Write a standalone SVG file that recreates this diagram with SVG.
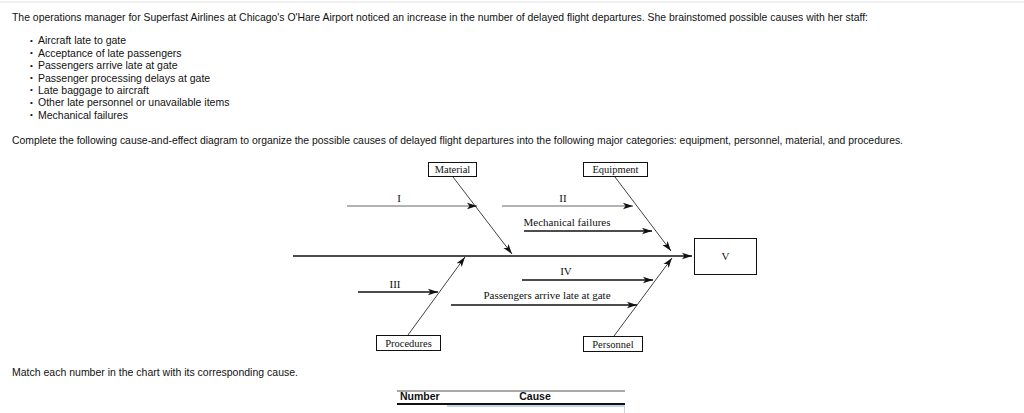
<svg xmlns="http://www.w3.org/2000/svg" width="1024" height="413" viewBox="0 0 1024 413">
<defs>
<style>
.t{font-family:"Liberation Sans",Arial,sans-serif;font-size:10.5px;fill:#111}
.b{font-family:"Liberation Sans",Arial,sans-serif;font-size:8px;fill:#111}
.s{font-family:"Liberation Serif","Times New Roman",serif;font-size:11px;fill:#111}
.bx{font-family:"Liberation Serif","Times New Roman",serif;font-size:10.5px;fill:#111}
.box{fill:#fff;stroke:#111;stroke-width:1}
.ln{stroke:#111;stroke-width:1.3;fill:none}
.gl{stroke:#666;stroke-width:1;fill:none}
.dg{stroke:#111;stroke-width:0.8;fill:none}
</style>
<marker id="ah" markerUnits="userSpaceOnUse" markerWidth="12" markerHeight="8" refX="10" refY="4" orient="auto">
<path d="M0,0.8 L10,4 L0,7.2 L2.5,4 z" fill="#111"/>
</marker>
</defs>
<rect x="0" y="0" width="1024" height="413" fill="#fff"/>
<rect x="0" y="1" width="1024" height="2" fill="#f1f1f4"/>
<g id="intro">
<text class="t" x="12" y="20.5" textLength="856" lengthAdjust="spacingAndGlyphs">The operations manager for Superfast Airlines at Chicago's O'Hare Airport noticed an increase in the number of delayed flight departures. She brainstomed possible causes with her staff:</text>
<g class="b">
<text x="30" y="42.5">•</text>
<text x="30" y="55">•</text>
<text x="30" y="67.5">•</text>
<text x="30" y="80">•</text>
<text x="30" y="92">•</text>
<text x="30" y="104.5">•</text>
<text x="30" y="117">•</text>
</g>
<text class="t" x="38" y="44">Aircraft late to gate</text>
<text class="t" x="38" y="56.5">Acceptance of late passengers</text>
<text class="t" x="38" y="69">Passengers arrive late at gate</text>
<text class="t" x="38" y="81.5">Passenger processing delays at gate</text>
<text class="t" x="38" y="93.5">Late baggage to aircraft</text>
<text class="t" x="38" y="106">Other late personnel or unavailable items</text>
<text class="t" x="38" y="118.5">Mechanical failures</text>
<text class="t" x="12" y="144" font-size="10px" textLength="891" lengthAdjust="spacingAndGlyphs">Complete the following cause-and-effect diagram to organize the possible causes of delayed flight departures into the following major categories: equipment, personnel, material, and procedures.</text>
<text class="t" x="12" y="376">Match each number in the chart with its corresponding cause.</text>
</g>
<g id="connectors">
<line class="ln" x1="293" y1="256" x2="692" y2="256" marker-end="url(#ah)"/>
<line class="gl" x1="347" y1="206" x2="477" y2="206" marker-end="url(#ah)"/>
<line class="dg" x1="453" y1="177" x2="512" y2="254" marker-end="url(#ah)"/>
<line class="gl" x1="502" y1="206" x2="633" y2="206" marker-end="url(#ah)"/>
<line class="ln" x1="524" y1="231" x2="652" y2="231" marker-end="url(#ah)"/>
<line class="dg" x1="615" y1="177" x2="671" y2="251" marker-end="url(#ah)"/>
<line class="ln" x1="358" y1="292" x2="438" y2="292" marker-end="url(#ah)"/>
<line class="dg" x1="408" y1="335" x2="465" y2="257" marker-end="url(#ah)"/>
<line class="ln" x1="522" y1="280" x2="653" y2="280" marker-end="url(#ah)"/>
<line class="ln" x1="451" y1="305" x2="637" y2="305" marker-end="url(#ah)"/>
<line class="dg" x1="614" y1="336" x2="672" y2="258" marker-end="url(#ah)"/>
</g>
<g id="material"><rect class="box" x="428.5" y="162.5" width="48" height="14"/><text class="bx" x="452.5" y="172.5" text-anchor="middle">Material</text></g>
<g id="equipment"><rect class="box" x="583.5" y="162.5" width="64" height="14"/><text class="bx" x="615.5" y="172.5" text-anchor="middle">Equipment</text></g>
<g id="procedures"><rect class="box" x="376.5" y="335.5" width="64" height="15"/><text class="bx" x="408.5" y="346.5" text-anchor="middle">Procedures</text></g>
<g id="personnel"><rect class="box" x="583.5" y="336.5" width="59" height="15"/><text class="bx" x="613" y="347.5" text-anchor="middle">Personnel</text></g>
<g id="v"><rect class="box" x="694.5" y="238.5" width="62" height="36"/><text class="s" x="725.5" y="260" text-anchor="middle">V</text></g>
<g id="labels">
<text class="s" x="399" y="201.5" text-anchor="middle">I</text>
<text class="s" x="563" y="201.5" text-anchor="middle">II</text>
<text class="s" x="567" y="226" text-anchor="middle">Mechanical failures</text>
<text class="s" x="395" y="288" text-anchor="middle">III</text>
<text class="s" x="566" y="275" text-anchor="middle">IV</text>
<text class="s" x="547" y="298.5" text-anchor="middle">Passengers arrive late at gate</text>
</g>
<g id="table">
<line x1="397" y1="391" x2="625" y2="391" stroke="#555" stroke-width="1"/>
<text class="t" x="400" y="400" font-weight="bold">Number</text>
<text class="t" x="535" y="400" font-weight="bold" text-anchor="middle">Cause</text>
<line x1="397" y1="404" x2="625" y2="404" stroke="#111" stroke-width="2"/>
<line x1="447" y1="406" x2="625" y2="406" stroke="#8aa6d6" stroke-width="1"/>
<line x1="624.5" y1="406" x2="624.5" y2="413" stroke="#c8d4ea" stroke-width="1"/>
</g>
</svg>
